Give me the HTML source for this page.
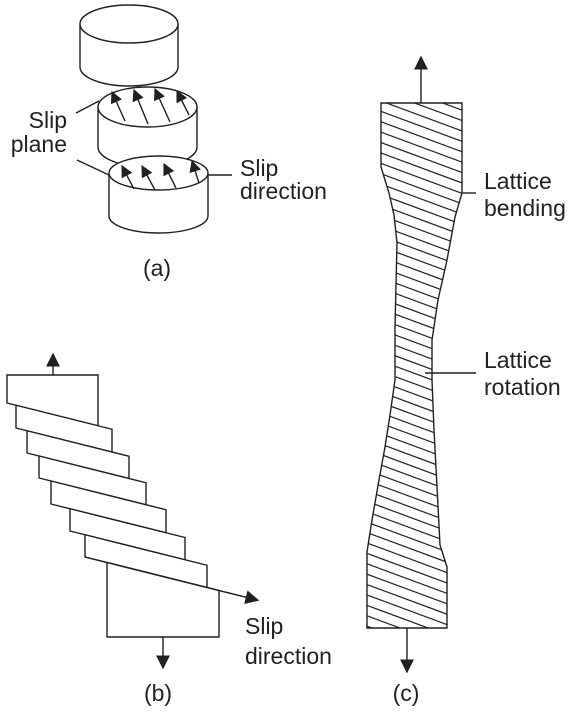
<!DOCTYPE html>
<html><head><meta charset="utf-8"><style>
html,body{margin:0;padding:0;background:#fff;}
svg{display:block;}
text{font-family:"Liberation Sans",Arial,sans-serif;font-size:23px;fill:#231f20;}
</style></head><body>
<svg width="576" height="720" viewBox="0 0 576 720">
<defs>
<marker id="ah" viewBox="0 0 10 10" refX="9" refY="5" markerWidth="12" markerHeight="12" markerUnits="userSpaceOnUse" orient="auto"><path d="M0,0 L10,5 L0,10 Z" fill="#231f20"/></marker>
<marker id="ahb" viewBox="0 0 10 10" refX="9" refY="5" markerWidth="14" markerHeight="14" markerUnits="userSpaceOnUse" orient="auto"><path d="M0,0 L10,5 L0,10 Z" fill="#231f20"/></marker>
<clipPath id="specClip"><path d="M381,103 L462,103 L462,193 L455,217 L447,260 L438,300 L432,340 L432,380 L434,430 L437,487 L440,545 L447,567 L447,628 L367,628 L367,552 L372,520 L379,480 L385,447 L390,415 L395,380 L395,327 L397,243 L394,215 L389,193 L381,167 Z"/></clipPath>
</defs>
<g fill="none" stroke="#231f20" stroke-width="1.4">
<g>
<path d="M80,24 L80,67 A49,19 0 0 0 178,67 L178,24" fill="#fff"/>
<ellipse cx="129" cy="24" rx="49" ry="19" fill="#fff"/>
</g>
<g>
<path d="M98,107 L98,147 A49.5,20 0 0 0 197,147 L197,107" fill="#fff"/>
<ellipse cx="147.5" cy="107" rx="49.5" ry="20" fill="#fff"/>
</g>
<g>
<path d="M109,173 L109,216 A49.5,17 0 0 0 208,216 L208,173" fill="#fff"/>
<ellipse cx="158.5" cy="173" rx="49.5" ry="17" fill="#fff"/>
</g>
<g marker-end="url(#ah)">
<line x1="125" y1="121" x2="112" y2="92"/><line x1="148" y1="124" x2="134" y2="90"/>
<line x1="170" y1="122" x2="155" y2="89"/><line x1="189" y1="115" x2="177" y2="91"/>
</g>
<g marker-end="url(#ah)">
<line x1="134" y1="189" x2="122" y2="166"/><line x1="155" y1="190" x2="142" y2="166"/>
<line x1="176" y1="188" x2="164" y2="164"/><line x1="199" y1="183" x2="192" y2="161"/>
</g>
<line x1="76" y1="113" x2="99" y2="101"/>
<line x1="77" y1="160" x2="109" y2="175"/>
<line x1="208" y1="175" x2="232" y2="175"/>
<g id="bplates"></g>
<line x1="53" y1="375" x2="53" y2="354" marker-end="url(#ahb)"/>
<line x1="163" y1="637" x2="163" y2="668" marker-end="url(#ahb)"/>
<g id="hatch" clip-path="url(#specClip)" stroke-width="1.2"></g>
<path d="M381,103 L462,103 L462,193 L455,217 L447,260 L438,300 L432,340 L432,380 L434,430 L437,487 L440,545 L447,567 L447,628 L367,628 L367,552 L372,520 L379,480 L385,447 L390,415 L395,380 L395,327 L397,243 L394,215 L389,193 L381,167 Z"/>
<line x1="421" y1="103" x2="421" y2="57" marker-end="url(#ahb)"/>
<line x1="407" y1="628" x2="407" y2="672" marker-end="url(#ahb)"/>
<line x1="462" y1="193" x2="476" y2="193"/>
<line x1="425" y1="373" x2="476" y2="373"/>
</g>
<text x="67" y="128" text-anchor="end">Slip</text>
<text x="67" y="152" text-anchor="end">plane</text>
<text x="240" y="176">Slip</text>
<text x="240" y="199">direction</text>
<text x="157" y="276" text-anchor="middle">(a)</text>
<text x="245" y="634">Slip</text>
<text x="245" y="664">direction</text>
<text x="158" y="701" text-anchor="middle">(b)</text>
<text x="484" y="189">Lattice</text>
<text x="484" y="216">bending</text>
<text x="484" y="368">Lattice</text>
<text x="484" y="395">rotation</text>
<text x="406" y="701" text-anchor="middle">(c)</text>
</svg>
<script>
const plateLeft = [7,16,27,39,51,70,85];
const plateRight = [98,112,129,146,166,185,207];
const lineStartY = [403,428,453,478,504,531,557];
const slope = 0.25;
const NS = 'http://www.w3.org/2000/svg';
const g = document.getElementById('bplates');
function ly(k,x){return lineStartY[k] + slope*(x-plateLeft[k]);}
function poly(pts,name){
  const p=document.createElementNS(NS,'polygon');
  p.setAttribute('points',pts.map(a=>a.join(',')).join(' '));
  p.setAttribute('fill','#fff');
  
  
  g.appendChild(p);
}
poly([[7,375],[98,375],[98,ly(0,98)],[7,403]],'top-block');
for(let p=1;p<plateLeft.length;p++){
  const L=plateLeft[p],R=plateRight[p];
  poly([[L,ly(p-1,L)],[R,ly(p-1,R)],[R,ly(p,R)],[L,ly(p,L)]],'slip-plate');
}
poly([[107,ly(6,107)],[219,ly(6,219)],[219,637],[107,637]],'bottom-block');
const sl=document.createElementNS(NS,'line');
sl.setAttribute('x1',85);sl.setAttribute('y1',557);sl.setAttribute('x2',258);sl.setAttribute('y2',ly(6,258));
sl.setAttribute('marker-end','url(#ahb)');


g.appendChild(sl);
const h=document.getElementById('hatch');
for(let y=62;y<640;y+=10.4){
  const l=document.createElementNS(NS,'line');
  l.setAttribute('x1',360);l.setAttribute('y1',y);l.setAttribute('x2',470);l.setAttribute('y2',y+0.37*110);
  
  
  h.appendChild(l);
}
</script>
</body></html>
